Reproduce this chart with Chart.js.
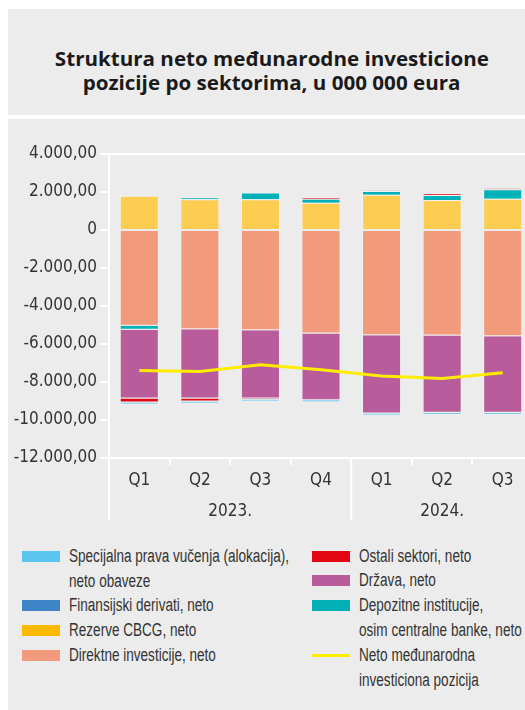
<!DOCTYPE html>
<html><head><meta charset="utf-8">
<script src="https://cdn.jsdelivr.net/npm/chart.js@4.4.0/dist/chart.umd.min.js"></script>
<style>
html,body{margin:0;padding:0;background:#fff;overflow:hidden;width:525px;height:710px;position:relative;}
.panel{position:absolute;background:#ececec;}
#titlePanel{left:8px;top:9px;width:530px;height:106px;}
#chartPanel{left:8px;top:119px;width:530px;height:600px;}
.tline{position:absolute;left:8px;width:528px;text-align:center;font-family:"Open Sans",sans-serif;font-weight:700;font-size:20px;line-height:24px;color:#1a1a1a;white-space:nowrap;}
.tline span{display:inline-block;transform-origin:center;}
#wrap{position:absolute;left:8px;top:119px;width:530px;height:410px;}
.sw{position:absolute;width:38px;height:11px;}
.lt{position:absolute;font-family:"Liberation Sans Narrow","Arial Narrow",sans-serif;font-size:18px;line-height:24px;color:#333;white-space:nowrap;transform-origin:left center;}
</style></head>
<body>
<div class="panel" id="titlePanel"></div>
<div class="panel" id="chartPanel"></div>
<div class="tline" style="top:47px"><span id="t1">Struktura neto međunarodne investicione</span></div>
<div class="tline" style="top:71px"><span id="t2">pozicije po sektorima, u 000 000 eura</span></div>
<div id="wrap"><canvas id="c"></canvas></div>
<div id="legend"></div>
<script>
// ---- data ----
const quarters = ['Q1','Q2','Q3','Q4','Q1','Q2','Q3'];
const years = ['2023.','2024.'];
const quartersPerYear = [4,3];
const yTicks = [4000,2000,0,-2000,-4000,-6000,-8000,-10000,-12000];

const direktne   = [-5040,-5220,-5270,-5450,-5535,-5550,-5590];
const rezerve    = [1800,1620,1620,1440,1860,1580,1650];
const depozitne  = [-210,90,350,210,190,260,490];
const derivati   = [0,0,0,0,30,0,0];
const drzava     = [-3615,-3650,-3595,-3510,-4125,-4070,-4030];
const ostali     = [-210,-160,-50,70,0,90,50];
const sdr        = [-105,-100,-110,-105,-105,-105,-95];
const nmip       = [-7395,-7450,-7095,-7360,-7690,-7815,-7515];

const labelsText = {
  sdr:'Specijalna prava vučenja (alokacija),\nneto obaveze',
  derivati:'Finansijski derivati, neto',
  rezerve:'Rezerve CBCG, neto',
  direktne:'Direktne investicije, neto',
  ostali:'Ostali sektori, neto',
  drzava:'Država, neto',
  depozitne:'Depozitne institucije,\nosim centralne banke, neto',
  nmip:'Neto međunarodna\ninvesticiona pozicija'
};

const bord = 'rgba(255,255,255,0.3)';
function barDs(label, data, color){
  return {type:'bar', label, data, backgroundColor:color, borderColor:bord, borderWidth:1, order:1,
          barPercentage:0.645, categoryPercentage:1, stack:'s'};
}

const datasets = [
  barDs(labelsText.direktne, direktne, '#f29a7c'),
  barDs(labelsText.rezerve, rezerve, '#fdcd52'),
  barDs(labelsText.depozitne, depozitne, '#00b1b7'),
  barDs(labelsText.derivati, derivati, '#3d85c6'),
  barDs(labelsText.drzava, drzava, '#b85c9c'),
  barDs(labelsText.ostali, ostali, '#e30613'),
  barDs(labelsText.sdr, sdr, '#5bc5f2'),
  {type:'line', label:labelsText.nmip, data:nmip, borderColor:'#ffed00', borderWidth:3,
   pointRadius:0, tension:0, order:0, stack:'line', fill:false}
];

function fmt(v){
  if (v===0) return '0';
  const neg = v<0; const a = Math.abs(v);
  const s = a.toString().replace(/\B(?=(\d{3})+(?!\d))/g,'.');
  return (neg?'-':'') + s + ',00';
}

const tickFont = {family:'"DejaVu Sans Condensed","DejaVu Sans",sans-serif', size:17};

const yearPlugin = {
  id:'years',
  afterDraw(chart){
    const {ctx, chartArea, scales:{x}} = chart;
    const step = x.getPixelForValue(1) - x.getPixelForValue(0);
    const yEnd = 401;
    ctx.save();
    ctx.strokeStyle = '#fff'; ctx.lineWidth = 2;
    ctx.beginPath(); ctx.moveTo(chartArea.left, chartArea.bottom); ctx.lineTo(chartArea.left, yEnd); ctx.stroke();
    ctx.font = '17px "DejaVu Sans Condensed","DejaVu Sans",sans-serif';
    ctx.fillStyle = '#333'; ctx.textAlign = 'center'; ctx.textBaseline = 'middle';
    let start = 0;
    years.forEach((yr,i)=>{
      const n = quartersPerYear[i];
      const l = x.getPixelForValue(start) - step/2;
      const r = x.getPixelForValue(start+n-1) + step/2;
      ctx.fillText(yr, (l+r)/2, 393);
      if (i>0){
        ctx.beginPath(); ctx.moveTo(l, chartArea.bottom); ctx.lineTo(l, yEnd); ctx.stroke();
      }
      start += n;
    });
    ctx.restore();
  }
};

new Chart(document.getElementById('c'), {
  data:{labels:quarters, datasets},
  options:{
    responsive:true, maintainAspectRatio:false, animation:false,
    layout:{padding:{top:35,right:5,bottom:9,left:0}},
    plugins:{legend:{display:false}, tooltip:{enabled:false}},
    scales:{
      x:{
        type:'category', offset:true,
        grid:{drawOnChartArea:false, color:'#fff', lineWidth:2, tickLength:7, offset:true},
        border:{color:'#fff', width:2},
        ticks:{font:tickFont, color:'#333', padding:5, maxRotation:0, autoSkip:false},
        afterFit(s){ s.height = 62; }
      },
      y:{
        stacked:true, min:-12000, max:4000,
        afterBuildTicks(s){ s.ticks = yTicks.map(v=>({value:v})); },
        grid:{drawOnChartArea:true, color:(c)=> (c.tick && c.tick.value===4000) ? '#fff' : 'rgba(0,0,0,0)', tickColor:'#fff', lineWidth:2, tickLength:9},
        border:{color:'#fff', width:2},
        ticks:{font:tickFont, color:'#333', padding:3, callback:(v)=>fmt(v)},
        afterFit(s){ s.width = 101; }
      }
    }
  },
  plugins:[yearPlugin]
});

// ---- title width fit ----
(function(){
  const t1 = document.getElementById('t1'), t2 = document.getElementById('t2');
  const k = 434 / t1.getBoundingClientRect().width;
  t1.style.transform = 'scaleX('+k+')';
  t2.style.transform = 'scaleX('+k+')';
})();

// ---- HTML legend ----
(function(){
  const L = document.getElementById('legend');
  const items = [
    {key:'sdr', color:'#5bc5f2', x:22, y:556},
    {key:'derivati', color:'#3d85c6', x:22, y:605},
    {key:'rezerve', color:'#fbba00', x:22, y:630},
    {key:'direktne', color:'#f29a7e', x:22, y:655},
    {key:'ostali', color:'#e30613', x:312, y:556},
    {key:'drzava', color:'#b85c9c', x:312, y:580},
    {key:'depozitne', color:'#00b0b5', x:312, y:605},
    {key:'nmip', color:'#ffed00', x:312, y:655, line:true}
  ];
  const spans = [];
  items.forEach(it=>{
    const sw = document.createElement('div');
    sw.className = 'sw';
    sw.style.left = it.x+'px';
    sw.style.background = it.color;
    if (it.line){ sw.style.height='3px'; sw.style.top=(it.y-1.5)+'px'; }
    else { sw.style.top=(it.y-5)+'px'; }
    L.appendChild(sw);
    labelsText[it.key].split('\n').forEach((ln,i)=>{
      const d = document.createElement('div');
      d.className = 'lt';
      d.textContent = ln;
      d.style.left = (it.x+47)+'px';
      d.style.top = (it.y - 12 + i*24.7)+'px';
      L.appendChild(d); spans.push(d);
    });
  });
  const k = 220 / spans[0].getBoundingClientRect().width;
  spans.forEach(s=> s.style.transform = 'scaleX('+k+')');
})();
</script>
</body></html>
